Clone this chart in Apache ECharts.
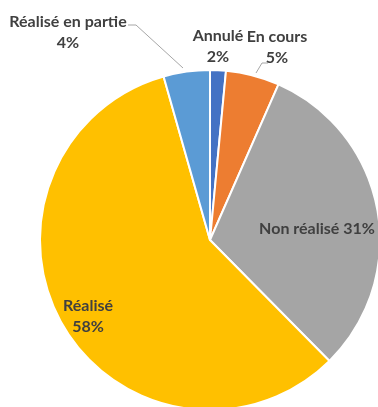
<!DOCTYPE html>
<html>
<head>
<meta charset="utf-8">
<script src="https://cdn.jsdelivr.net/npm/echarts@6/dist/echarts.min.js"></script>
<style>
  html, body { margin: 0; padding: 0; background: #fff; }
  #chart { width: 378px; height: 407px; }
</style>
</head>
<body>
<div id="chart"></div>
<script>
// statuts, dans l'ordre horaire depuis midi
const categories = ['Annulé', 'En cours', 'Non réalisé', 'Réalisé', 'Réalisé en partie'];
const values = [1.5, 5.1, 31, 58, 4.4];
const colors = ['#4472C4', '#ED7D31', '#A5A5A5', '#FFC000', '#5B9BD5'];

// où poser chaque étiquette
const labelPos = [
    { x: 218, y: 46 },
    { x: 277, y: 47 },
    { x: 317, y: 229 },
    { x: 88, y: 316 },
    { x: 68, y: 32 }
];
const linePts = {
    1: [[256, 73], [262, 63], [268, 63]],
    4: [[183, 68], [136, 25], [128, 25]]
};

let chart = echarts.init(document.getElementById('chart'));

let option = {
    animation: false,
    series: [{
        type: 'pie',
        radius: 170,
        center: [210, 240],
        startAngle: 90,
        clockwise: true,
        avoidLabelOverlap: false,
        itemStyle: {
            borderColor: '#fff',
            borderWidth: 2
        },
        label: {
            show: true,
            position: 'outside',
            color: '#404040',
            fontFamily: 'Lato',
            fontWeight: 'bold',
            fontSize: 16,
            lineHeight: 21,
            align: 'center',
            overflow: 'none',
            formatter: function (p) {
                let pct = Math.round(p.percent) + '%';
                return p.dataIndex === 2 ? p.name + ' ' + pct : p.name + '\n' + pct;
            }
        },
        labelLine: {
            show: false,
            lineStyle: { color: '#A6A6A6', width: 1 }
        },
        labelLayout: function (params) {
            let i = params.dataIndex;
            let res = {
                x: labelPos[i].x,
                y: labelPos[i].y,
                align: 'center',
                verticalAlign: 'middle'
            };
            if (linePts[i]) res.labelLinePoints = linePts[i];
            return res;
        },
        data: categories.map(function (name, i) {
            let d = {
                name: name,
                value: values[i],
                itemStyle: { color: colors[i] }
            };
            if (linePts[i]) d.labelLine = { show: true };
            return d;
        })
    }]
};

chart.setOption(option);
</script>
</body>
</html>
